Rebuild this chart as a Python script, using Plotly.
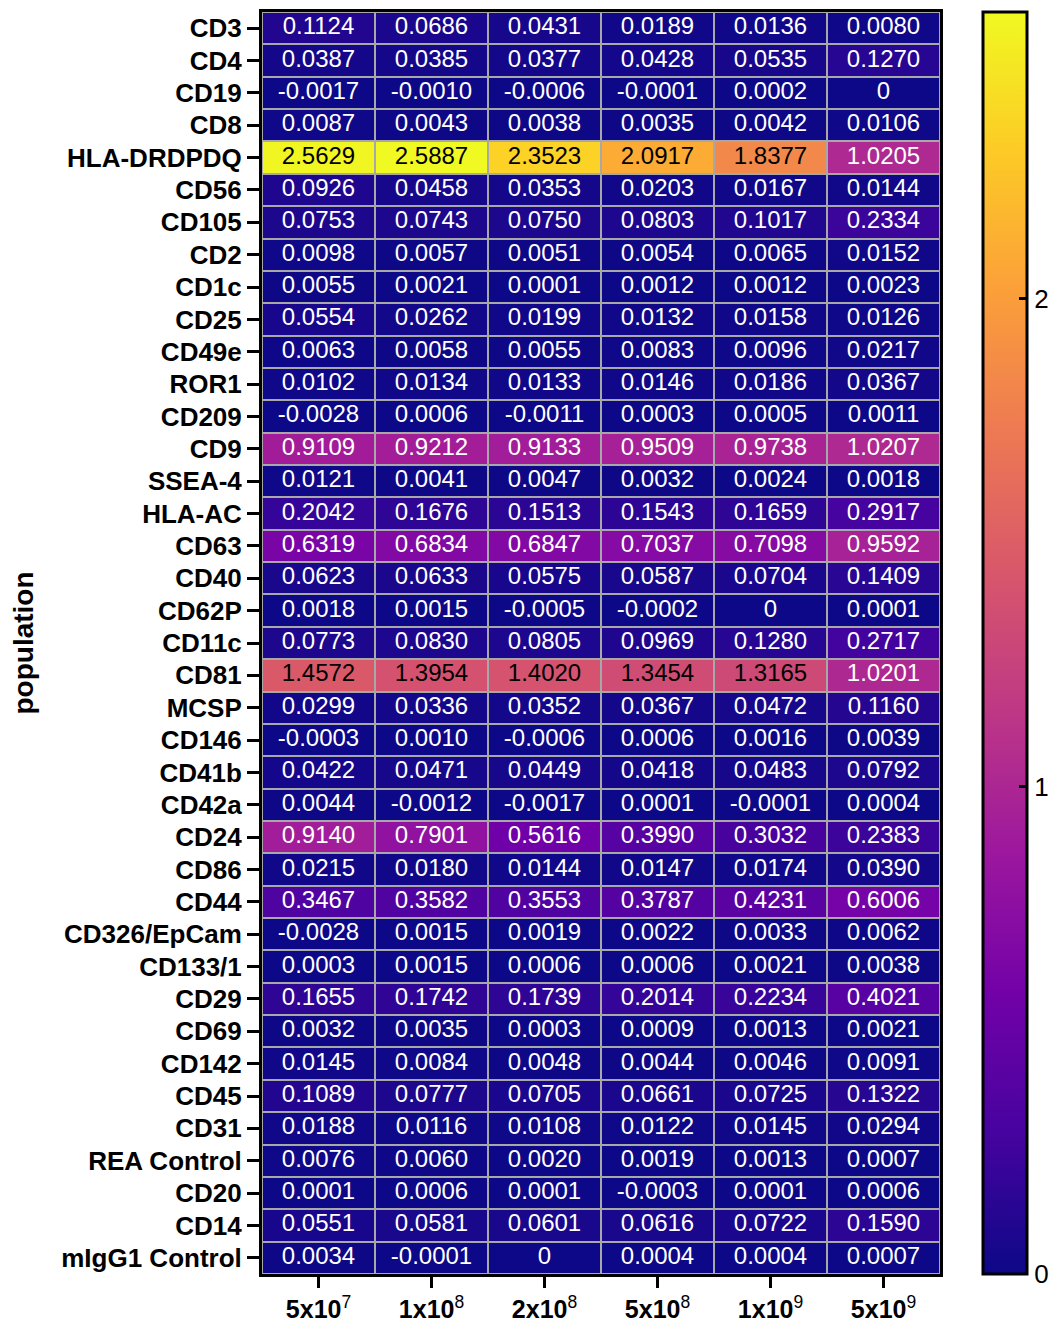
import plotly.graph_objects as go

populations = ["CD3", "CD4", "CD19", "CD8", "HLA-DRDPDQ", "CD56", "CD105", "CD2", "CD1c", "CD25",
               "CD49e", "ROR1", "CD209", "CD9", "SSEA-4", "HLA-AC", "CD63", "CD40", "CD62P", "CD11c",
               "CD81", "MCSP", "CD146", "CD41b", "CD42a", "CD24", "CD86", "CD44", "CD326/EpCam",
               "CD133/1", "CD29", "CD69", "CD142", "CD45", "CD31", "REA Control", "CD20", "CD14",
               "mIgG1 Control"]

doses = ["5e7", "1e8", "2e8", "5e8", "1e9", "5e9"]
dose_labels = ["<b>5x10</b><sup>7</sup>", "<b>1x10</b><sup>8</sup>", "<b>2x10</b><sup>8</sup>",
               "<b>5x10</b><sup>8</sup>", "<b>1x10</b><sup>9</sup>", "<b>5x10</b><sup>9</sup>"]

values = [
    [0.1124, 0.0686, 0.0431, 0.0189, 0.0136, 0.0080],
    [0.0387, 0.0385, 0.0377, 0.0428, 0.0535, 0.1270],
    [-0.0017, -0.0010, -0.0006, -0.0001, 0.0002, 0],
    [0.0087, 0.0043, 0.0038, 0.0035, 0.0042, 0.0106],
    [2.5629, 2.5887, 2.3523, 2.0917, 1.8377, 1.0205],
    [0.0926, 0.0458, 0.0353, 0.0203, 0.0167, 0.0144],
    [0.0753, 0.0743, 0.0750, 0.0803, 0.1017, 0.2334],
    [0.0098, 0.0057, 0.0051, 0.0054, 0.0065, 0.0152],
    [0.0055, 0.0021, 0.0001, 0.0012, 0.0012, 0.0023],
    [0.0554, 0.0262, 0.0199, 0.0132, 0.0158, 0.0126],
    [0.0063, 0.0058, 0.0055, 0.0083, 0.0096, 0.0217],
    [0.0102, 0.0134, 0.0133, 0.0146, 0.0186, 0.0367],
    [-0.0028, 0.0006, -0.0011, 0.0003, 0.0005, 0.0011],
    [0.9109, 0.9212, 0.9133, 0.9509, 0.9738, 1.0207],
    [0.0121, 0.0041, 0.0047, 0.0032, 0.0024, 0.0018],
    [0.2042, 0.1676, 0.1513, 0.1543, 0.1659, 0.2917],
    [0.6319, 0.6834, 0.6847, 0.7037, 0.7098, 0.9592],
    [0.0623, 0.0633, 0.0575, 0.0587, 0.0704, 0.1409],
    [0.0018, 0.0015, -0.0005, -0.0002, 0, 0.0001],
    [0.0773, 0.0830, 0.0805, 0.0969, 0.1280, 0.2717],
    [1.4572, 1.3954, 1.4020, 1.3454, 1.3165, 1.0201],
    [0.0299, 0.0336, 0.0352, 0.0367, 0.0472, 0.1160],
    [-0.0003, 0.0010, -0.0006, 0.0006, 0.0016, 0.0039],
    [0.0422, 0.0471, 0.0449, 0.0418, 0.0483, 0.0792],
    [0.0044, -0.0012, -0.0017, 0.0001, -0.0001, 0.0004],
    [0.9140, 0.7901, 0.5616, 0.3990, 0.3032, 0.2383],
    [0.0215, 0.0180, 0.0144, 0.0147, 0.0174, 0.0390],
    [0.3467, 0.3582, 0.3553, 0.3787, 0.4231, 0.6006],
    [-0.0028, 0.0015, 0.0019, 0.0022, 0.0033, 0.0062],
    [0.0003, 0.0015, 0.0006, 0.0006, 0.0021, 0.0038],
    [0.1655, 0.1742, 0.1739, 0.2014, 0.2234, 0.4021],
    [0.0032, 0.0035, 0.0003, 0.0009, 0.0013, 0.0021],
    [0.0145, 0.0084, 0.0048, 0.0044, 0.0046, 0.0091],
    [0.1089, 0.0777, 0.0705, 0.0661, 0.0725, 0.1322],
    [0.0188, 0.0116, 0.0108, 0.0122, 0.0145, 0.0294],
    [0.0076, 0.0060, 0.0020, 0.0019, 0.0013, 0.0007],
    [0.0001, 0.0006, 0.0001, -0.0003, 0.0001, 0.0006],
    [0.0551, 0.0581, 0.0601, 0.0616, 0.0722, 0.1590],
    [0.0034, -0.0001, 0, 0.0004, 0.0004, 0.0007],
]

colorbar_ticks = [0, 1, 2]

FONT = "Arial, Liberation Sans, Helvetica, sans-serif"


def fmt(v):
    return "0" if v == 0 else f"{v:.4f}"


zmax = max(max(r) for r in values)

fig = go.Figure()
fig.add_trace(go.Heatmap(
    z=values, x=doses, y=populations,
    colorscale="Plasma", zmin=0, zmax=zmax,
    xgap=2, ygap=2, hoverinfo="skip",
    colorbar=dict(
        x=1.063, xanchor="left", xpad=0, ypad=0,
        y=0.5, yanchor="middle", len=1, lenmode="fraction",
        thickness=44, outlinewidth=3, outlinecolor="black",
        tickvals=colorbar_ticks,
        ticks="inside", ticklen=9, tickwidth=3, tickcolor="black",
        tickfont=dict(family=FONT, size=26, color="black"),
    ),
))

tx, ty, tt, tc = [], [], [], []
for i, p in enumerate(populations):
    for j, d in enumerate(doses):
        v = values[i][j]
        tx.append(d)
        ty.append(p)
        tt.append(fmt(v))
        tc.append("black" if v > 1.2 else "white")

fig.add_trace(go.Scatter(
    x=tx, y=ty, text=tt, mode="text",
    textfont=dict(family=FONT, size=24, color=tc),
    textposition="middle center", hoverinfo="skip", showlegend=False,
))

fig.update_layout(
    width=1056, height=1314,
    margin=dict(l=254, r=124, t=4, b=48),
    paper_bgcolor="white", plot_bgcolor="#a8a8a8",
    font=dict(family=FONT, color="black"),
    showlegend=False,
)
fig.update_xaxes(
    range=[-0.5, len(doses) - 0.5], automargin=False,
    tickvals=doses, ticktext=dose_labels,
    ticks="outside", ticklen=11, tickwidth=3, tickcolor="black",
    tickfont=dict(family=FONT, size=25, color="black"),
    showline=True, linewidth=3, linecolor="black", mirror=True,
    showgrid=False, zeroline=False, fixedrange=True,
)
fig.update_yaxes(
    range=[len(populations) - 0.5, -0.5], automargin=False,
    tickvals=populations, ticktext=[f"<b>{p}</b>" for p in populations],
    ticks="outside", ticklen=12, tickwidth=3, tickcolor="black",
    tickfont=dict(family=FONT, size=26, color="black"),
    showline=True, linewidth=3, linecolor="black", mirror=True,
    showgrid=False, zeroline=False, fixedrange=True,
    title=dict(text="<b>population</b>", font=dict(family=FONT, size=28, color="black"), standoff=20),
)

fig.write_html("out.html")
